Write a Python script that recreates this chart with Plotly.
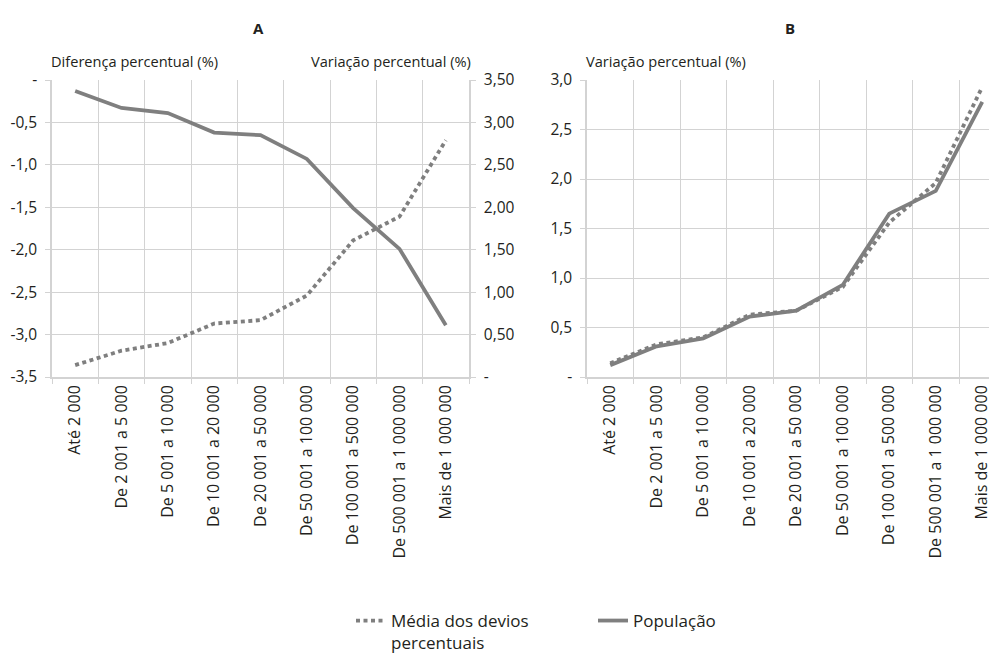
import plotly.graph_objects as go

categories = ["Até 2 000", "De 2 001 a 5 000", "De 5 001 a 10 000", "De 10 001 a 20 000",
              "De 20 001 a 50 000", "De 50 001 a 100 000", "De 100 001 a 500 000",
              "De 500 001 a 1 000 000", "Mais de 1 000 000"]

# Panel A
a_media = [0.14, 0.31, 0.40, 0.63, 0.67, 0.96, 1.61, 1.89, 2.79]        # right axis
a_pop = [-0.13, -0.33, -0.39, -0.62, -0.65, -0.93, -1.51, -1.99, -2.89]  # left axis

# Panel B
b_media = [0.14, 0.33, 0.40, 0.63, 0.67, 0.91, 1.56, 1.96, 2.93]
b_pop = [0.12, 0.31, 0.39, 0.61, 0.67, 0.93, 1.65, 1.88, 2.78]

a_left_vals = [0, -0.5, -1.0, -1.5, -2.0, -2.5, -3.0, -3.5]
a_left_text = ["-", "-0,5", "-1,0", "-1,5", "-2,0", "-2,5", "-3,0", "-3,5"]
a_right_vals = [0, 0.5, 1.0, 1.5, 2.0, 2.5, 3.0, 3.5]
a_right_text = ["-", "0,50", "1,00", "1,50", "2,00", "2,50", "3,00", "3,50"]
b_vals = [0, 0.5, 1.0, 1.5, 2.0, 2.5, 3.0]
b_text = ["-", "0,5", "1,0", "1,5", "2,0", "2,5", "3,0"]

LINE = "#7f7f7f"
GRID = "#d3d3d3"
TXT = "#231f20"
FONT = "Open Sans"
OFF = 8  # page body margin
W, H = 997 - OFF, 653 - OFF

def px_x(p):
    return (p - OFF) / W

def px_y(p):
    return 1 - (p - OFF) / H

fig = go.Figure()
fig.add_trace(go.Scatter(x=categories, y=a_media, xaxis="x", yaxis="y2", mode="lines",
                         line=dict(color=LINE, width=3.8, dash="4px,3.5px"),
                         name="Média dos devios<br>percentuais", legendgroup="m"))
fig.add_trace(go.Scatter(x=categories, y=a_pop, xaxis="x", yaxis="y", mode="lines",
                         line=dict(color=LINE, width=3.8),
                         name="População", legendgroup="p"))
fig.add_trace(go.Scatter(x=categories, y=b_media, xaxis="x2", yaxis="y3", mode="lines",
                         line=dict(color=LINE, width=3.8, dash="4px,3.5px"),
                         name="Média dos devios<br>percentuais", showlegend=False, legendgroup="m"))
fig.add_trace(go.Scatter(x=categories, y=b_pop, xaxis="x2", yaxis="y3", mode="lines",
                         line=dict(color=LINE, width=3.8),
                         name="População", showlegend=False, legendgroup="p"))

ydom = [px_y(377), px_y(80)]
xcommon = dict(type="category", tickson="boundaries", ticks="outside", ticklen=5,
               tickcolor=GRID, showgrid=True, gridcolor=GRID, gridwidth=1,
               showline=True, linecolor=GRID, linewidth=1.5, tickangle=-90, automargin=False,
               tickfont=dict(family=FONT, size=16, color=TXT), zeroline=False)
ycommon = dict(ticks="outside", ticklen=5, tickcolor=GRID, showline=True, linecolor=GRID,
               linewidth=1.5, zeroline=False, automargin=False, ticklabelstandoff=5,
               tickfont=dict(family=FONT, size=15.5, color=TXT))

fig.update_layout(
    width=W, height=H,
    margin=dict(l=0, r=0, t=0, b=0, autoexpand=False),
    paper_bgcolor="white", plot_bgcolor="white",
    font=dict(family=FONT, size=14, color=TXT),
    xaxis=dict(domain=[px_x(52), px_x(469)], anchor="y", range=[-0.5, 8.5], **xcommon),
    xaxis2=dict(domain=[px_x(587), 1.0], anchor="y3", range=[-0.5, 8.317], **xcommon),
    yaxis=dict(domain=ydom, anchor="x", range=[-3.5, 0], tickvals=a_left_vals, ticktext=a_left_text,
               showgrid=True, gridcolor=GRID, gridwidth=1, **ycommon),
    yaxis2=dict(overlaying="y", side="right", anchor="x", range=[0, 3.5], tickvals=a_right_vals,
                ticktext=a_right_text, showgrid=False, **ycommon),
    yaxis3=dict(domain=ydom, anchor="x2", range=[0, 3.0], tickvals=b_vals, ticktext=b_text,
                showgrid=True, gridcolor=GRID, gridwidth=1, **ycommon),
    showlegend=True,
    legend=dict(orientation="h", x=px_x(351), xanchor="left", y=px_y(603), yanchor="top",
                valign="top", entrywidth=197, font=dict(family=FONT, size=17, color=TXT),
                bgcolor="rgba(0,0,0,0)"),
    annotations=[
        dict(text="<b>A</b>", x=px_x(259), y=px_y(28), xref="paper", yref="paper",
             showarrow=False, xanchor="center", yanchor="middle", font=dict(size=15)),
        dict(text="<b>B</b>", x=px_x(790), y=px_y(28), xref="paper", yref="paper",
             showarrow=False, xanchor="center", yanchor="middle", font=dict(size=15)),
        dict(text="Diferença percentual (%)", x=px_x(49), y=px_y(61), xref="paper", yref="paper",
             showarrow=False, xanchor="left", yanchor="middle", font=dict(size=14.6)),
        dict(text="Variação percentual (%)", x=px_x(473), y=px_y(61), xref="paper", yref="paper",
             showarrow=False, xanchor="right", yanchor="middle", font=dict(size=14.6)),
        dict(text="Variação percentual (%)", x=px_x(584), y=px_y(61), xref="paper", yref="paper",
             showarrow=False, xanchor="left", yanchor="middle", font=dict(size=14.6)),
    ],
)

fig.write_html("out.html")
